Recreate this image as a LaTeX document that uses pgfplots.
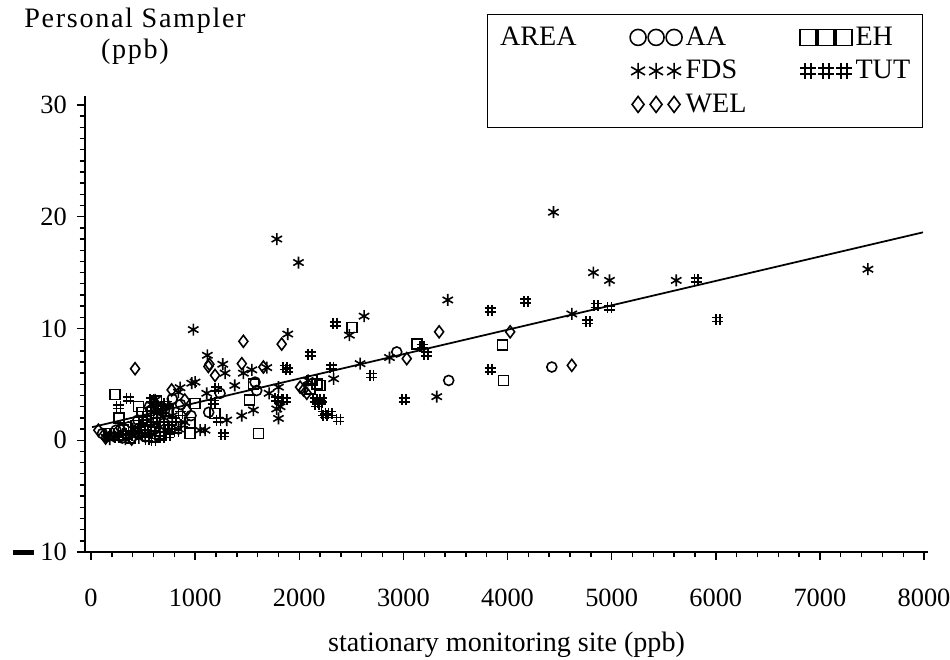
\documentclass[border=0pt]{standalone}
\usepackage{pgfplots}
\pgfplotsset{compat=1.18}
\usepackage{fontspec}
\setmainfont{Liberation Serif}
\newfontfamily\ylabfont[LetterSpace=6]{Liberation Serif}

% the "#" symbol used for area TUT
\pgfdeclareplotmark{hash}{%
  \pgfpathmoveto{\pgfqpoint{-0.35\pgfplotmarksize}{\pgfplotmarksize}}%
  \pgfpathlineto{\pgfqpoint{-0.35\pgfplotmarksize}{-\pgfplotmarksize}}%
  \pgfpathmoveto{\pgfqpoint{0.35\pgfplotmarksize}{\pgfplotmarksize}}%
  \pgfpathlineto{\pgfqpoint{0.35\pgfplotmarksize}{-\pgfplotmarksize}}%
  \pgfpathmoveto{\pgfqpoint{-\pgfplotmarksize}{0.35\pgfplotmarksize}}%
  \pgfpathlineto{\pgfqpoint{\pgfplotmarksize}{0.35\pgfplotmarksize}}%
  \pgfpathmoveto{\pgfqpoint{-\pgfplotmarksize}{-0.35\pgfplotmarksize}}%
  \pgfpathlineto{\pgfqpoint{\pgfplotmarksize}{-0.35\pgfplotmarksize}}%
  \pgfusepathqstroke}

\begin{document}
\begin{tikzpicture}
\begin{axis}[
  scale only axis, width=16.86cm, height=9.12cm,
  at={(0,0)}, anchor=south west,
  xmin=-58, xmax=8038, ymin=-10, ymax=30.8,
  axis x line*=bottom, axis y line*=left,
  axis line style={line width=0.9pt},
  xtick={0,1000,2000,3000,4000,5000,6000,7000,8000},
  xticklabels={0,1000,2000,3000,4000,5000,6000,7000,8000},
  minor x tick num=4,
  ytick={-10,0,10,20,30},
  yticklabels={{\rule[0.22em]{0.8em}{0.18em}\hspace{0.25em}10},0,10,20,30},
  minor y tick num=9,
  tick align=outside, major tick length=0.16cm, minor tick length=0.11cm,
  tick style={black, line width=0.8pt},
  ticklabel style={font=\fontsize{15}{17}\selectfont},
  xticklabel shift=0.45cm,
  yticklabel shift=0.08cm,
  every axis x label/.style={at={(axis description cs:0.5,0)}, anchor=center, yshift=-1.86cm,
    font=\fontsize{16}{18}\selectfont},
  every axis y label/.style={at={(axis description cs:0,1)}, anchor=center, xshift=1.0cm, yshift=1.2cm,
    align=center, font=\ylabfont\fontsize{16}{17.5}\selectfont},
  xlabel={stationary monitoring site (ppb)},
  ylabel={Personal Sampler\\(ppb)},
  legend columns=3,
  legend cell align=left,
  legend style={at={(axis description cs:1,1)}, anchor=north east, xshift=-0.1cm, yshift=1.64cm,
    draw=black, line width=0.6pt, inner sep=5pt,
    font=\fontsize{16}{18}\selectfont, row sep=3pt,
    /tikz/every even column/.append style={column sep=1.0cm}},
  every axis plot/.append style={black, line width=0.9pt},
]

% fitted regression line
\addplot[forget plot, black, line width=1pt] coordinates {(10,1.17) (7990,18.6)};

% AA
\addplot[forget plot, only marks, mark=o, mark size=0.1cm] coordinates {
(4425,6.55)(3435,5.35)(2936,7.9)(1591,4.45)(1239,4.2)(1575,5.2)(1130,2.5)
(110,0.6)(240,0.9)(360,1.2)(450,1.8)(560,3.0)(690,2.9)(780,3.7)(860,3.2)
(520,0.3)(960,2.2)(300,0.2)(620,1.1)
};

% EH
\addplot[forget plot, only marks, mark=square, mark size=0.1cm] coordinates {
(231,4.1)(455,3.0)(270,2.0)(951,1.6)(951,0.6)(1191,2.4)(1559,5.05)(1522,3.6)
(1607,0.6)(2104,4.6)(2168,5.05)(2120,5.35)(2200,4.9)(2504,10.1)(3129,8.6)
(3953,8.5)(3960,5.35)(170,0.6)(310,0.9)(430,1.3)(490,2.5)(560,0.9)(630,3.5)
(700,1.2)(740,2.6)(1000,3.3)(380,0.2)(660,0.6)
};

% FDS
\addplot[forget plot, only marks, mark=asterisk, mark size=0.12cm] coordinates {
(1784,18.0)(1992,15.9)(4441,20.4)(4825,15.0)(4979,14.3)(4617,11.3)(5620,14.3)
(7461,15.3)(3426,12.55)(2481,9.4)(2622,11.1)(2866,7.4)(2584,6.85)(3320,3.9)
(982,9.9)(1889,9.5)(1117,7.6)(1265,6.8)(1544,6.3)(1463,6.0)(1688,6.5)
(1800,4.75)(1447,2.2)(1559,2.7)(1800,1.95)(1095,0.9)(1816,3.0)(2085,5.35)
(1111,4.2)(967,5.1)(839,4.3)(1047,0.9)(615,3.6)(855,4.7)(999,5.2)(1303,1.8)
(1783,2.8)(1287,6.0)(180,0.1)(260,0.6)(330,0.1)(400,1.0)(460,0.2)(520,0.5)
(570,1.8)(610,0.5)(660,1.2)(700,2.0)(750,3.0)(780,2.2)(840,1.0)(900,1.6)
(640,2.6)(580,3.2)(2330,5.5)(1380,4.9)(1710,4.2)(230,0.3)(430,0.6)(710,0.9)
};

% TUT
\addplot[forget plot, only marks, mark=hash, mark size=0.11cm] coordinates {
(4851,12.05)(4979,11.85)(4771,10.6)(5812,14.35)(6020,10.8)(3833,11.65)
(4176,12.45)(2344,10.4)(3218,7.7)(3180,8.4)(2312,6.55)(2696,5.8)(3833,6.3)
(3007,3.6)(2216,3.6)(2233,2.4)(2297,2.4)(2377,1.85)(2104,7.7)(1864,6.5)
(1890,6.3)(1268,0.5)(1783,3.7)(1864,3.6)(2152,3.6)(2170,3.2)(1172,3.4)
(1223,1.8)(1207,4.6)(359,3.7)(263,3.0)(583,3.6)(2200,3.4)(2248,2.2)(1816,3.6)
(150,0.3)(200,0.5)(250,0.2)(290,0.4)(320,0.6)(350,0.3)(380,0.7)(410,0.4)
(440,0.9)(470,0.5)(500,1.1)(530,0.8)(560,1.4)(590,1.0)(620,1.8)(650,2.2)
(680,1.5)(700,2.6)(720,3.3)(650,3.0)(600,2.8)(560,2.4)(520,2.0)(480,1.6)
(760,1.2)(800,1.8)(820,0.8)(860,2.4)(880,1.4)(740,0.4)(680,0.2)(600,0.0)
(540,0.1)
};

% WEL
\addplot[forget plot, only marks, mark=diamond, mark size=0.12cm] coordinates {
(423,6.4)(1463,8.85)(1831,8.6)(3343,9.7)(3032,7.3)(4025,9.7)(4617,6.7)
(1127,6.6)(1137,6.8)(1191,5.8)(1448,6.85)(1655,6.55)(2008,4.75)(2072,4.2)
(2040,4.5)(774,4.5)(919,2.7)(70,0.9)(140,0.2)(280,1.1)(390,0.1)(610,3.4)
(900,3.6)
};

% legend: AREA | AA | EH / - | FDS | TUT / - | WEL
\addlegendimage{empty legend}
\addlegendentry{AREA}
\addlegendimage{legend image code/.code={\draw plot[only marks, mark=o, mark size=0.16cm, line width=0.7pt] coordinates {(0cm,0cm) (0.36cm,0cm) (0.72cm,0cm)};}}
\addlegendentry{AA}
\addlegendimage{legend image code/.code={\draw plot[only marks, mark=square, mark size=0.16cm, line width=0.7pt] coordinates {(0cm,0cm) (0.36cm,0cm) (0.72cm,0cm)};}}
\addlegendentry{EH}
\addlegendimage{empty legend}
\addlegendentry{}
\addlegendimage{legend image code/.code={\draw plot[only marks, mark=asterisk, mark size=0.16cm, line width=0.7pt] coordinates {(0cm,0cm) (0.36cm,0cm) (0.72cm,0cm)};}}
\addlegendentry{FDS}
\addlegendimage{legend image code/.code={\draw plot[only marks, mark=hash, mark size=0.16cm, line width=0.7pt] coordinates {(0cm,0cm) (0.36cm,0cm) (0.72cm,0cm)};}}
\addlegendentry{TUT}
\addlegendimage{empty legend}
\addlegendentry{}
\addlegendimage{legend image code/.code={\draw plot[only marks, mark=diamond, mark size=0.16cm, line width=0.7pt] coordinates {(0cm,0cm) (0.36cm,0cm) (0.72cm,0cm)};}}
\addlegendentry{WEL}
\end{axis}
\pgfresetboundingbox
\path (-1.7cm,-2.16cm) rectangle (17.3cm,11.04cm);
\end{tikzpicture}
\end{document}
